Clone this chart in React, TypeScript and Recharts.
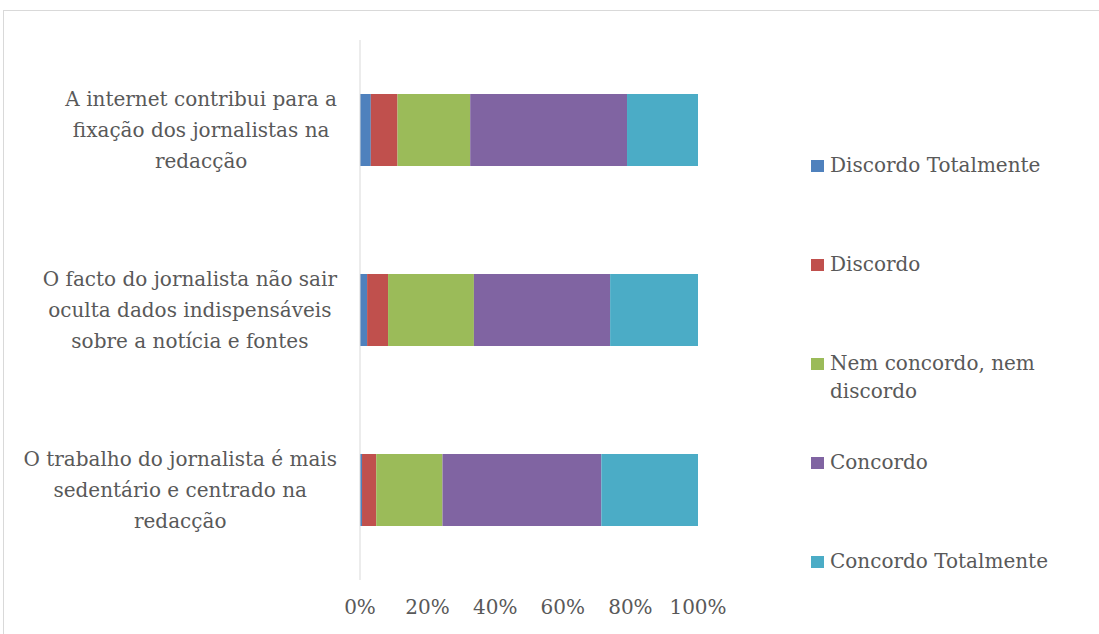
import React from 'react';
import { BarChart, Bar, XAxis, YAxis, Legend } from 'recharts';

const categoryLines = [
  ['A internet contribui para a', 'fixação dos jornalistas na', 'redacção'],
  ['O facto do jornalista não sair', 'oculta dados indispensáveis', 'sobre a notícia e fontes'],
  ['O trabalho do jornalista é mais', 'sedentário e centrado na', 'redacção'],
];

const discordoTotalmente = [3.2, 2.1, 0.6];
const discordo = [7.9, 6.2, 4.2];
const nemConcordo = [21.5, 25.4, 19.6];
const concordo = [46.4, 40.3, 47.0];
const concordoTotalmente = [21.0, 26.0, 28.6];

const xTicks = [0, 0.2, 0.4, 0.6, 0.8, 1];

const series = [
  { key: 'dt', name: 'Discordo Totalmente', lines: ['Discordo Totalmente'], color: '#4F81BD', values: discordoTotalmente },
  { key: 'd', name: 'Discordo', lines: ['Discordo'], color: '#C0504D', values: discordo },
  { key: 'n', name: 'Nem concordo, nem discordo', lines: ['Nem concordo, nem', 'discordo'], color: '#9BBB59', values: nemConcordo },
  { key: 'c', name: 'Concordo', lines: ['Concordo'], color: '#8064A2', values: concordo },
  { key: 'ct', name: 'Concordo Totalmente', lines: ['Concordo Totalmente'], color: '#4BACC6', values: concordoTotalmente },
];

const data = categoryLines.map((lines, i) => {
  const row: Record<string, any> = { cat: lines.join(' '), idx: i };
  series.forEach((s) => {
    row[s.key] = s.values[i];
  });
  return row;
});

const FONT = '"DejaVu Serif", serif';
const FONT_SIZE = 20;
const TEXT = '#595959';

let ctx: CanvasRenderingContext2D | null = null;
const measure = (t: string) => {
  if (!ctx) {
    ctx = document.createElement('canvas').getContext('2d');
  }
  if (!ctx) return t.length * FONT_SIZE * 0.5;
  ctx.font = `${FONT_SIZE}px "DejaVu Serif"`;
  return ctx.measureText(t).width;
};

const CategoryTick = (props: any) => {
  const { y, payload } = props;
  const lines = categoryLines.find((l) => l.join(' ') === payload.value) || [payload.value];
  const maxW = Math.max(...lines.map(measure));
  const cx = 337 - maxW / 2;
  const lh = 31;
  const y0 = y - ((lines.length - 1) * lh) / 2;
  return (
    <text textAnchor="middle" fill={TEXT} fontSize={FONT_SIZE} fontFamily={FONT}>
      {lines.map((l, i) => (
        <tspan key={i} x={cx} y={y0 + i * lh} dy="0.35em">
          {l}
        </tspan>
      ))}
    </text>
  );
};

const LegendContent = () => (
  <div style={{ fontFamily: FONT, fontSize: FONT_SIZE, color: TEXT }}>
    {series.map((s, i) => (
      <div
        key={s.key}
        style={{ position: 'absolute', left: 0, top: i * 99, display: 'flex', alignItems: 'flex-start' }}
      >
        <span
          style={{ display: 'inline-block', width: 13, height: 12, background: s.color, marginTop: 9, marginRight: 6 }}
        />
        <span style={{ lineHeight: '28px', whiteSpace: 'nowrap' }}>
          {s.lines.map((l, j) => (
            <div key={j}>{l}</div>
          ))}
        </span>
      </div>
    ))}
  </div>
);

export default function App() {
  return (
    <div style={{ position: 'fixed', left: 0, top: 0, width: 1099, height: 634, background: '#fff' }}>
      <div
        style={{
          position: 'absolute',
          left: 3,
          top: 10,
          width: 1100,
          height: 630,
          border: '1px solid #d9d9d9',
        }}
      />
      <BarChart
        width={1099}
        height={634}
        data={data}
        layout="vertical"
        stackOffset="expand"
        barSize={72}
        margin={{ top: 40, right: 401, bottom: 0, left: 0 }}
      >
        <XAxis
          type="number"
          domain={[0, 1]}
          ticks={xTicks}
          tickFormatter={(v: number) => `${Math.round(v * 100)}%`}
          axisLine={false}
          tickLine={false}
          height={54}
          tickMargin={14}
          tick={{ fill: TEXT, fontSize: FONT_SIZE, fontFamily: FONT }}
        />
        <YAxis
          type="category"
          dataKey="cat"
          width={360}
          axisLine={{ stroke: '#d9d9d9' }}
          tickLine={false}
          tick={<CategoryTick />}
        />
        <Legend
          layout="vertical"
          align="center"
          verticalAlign="middle"
          content={<LegendContent />}
          wrapperStyle={{ position: 'absolute', left: 811, top: 151, width: 270, height: 440 }}
        />
        {series.map((s) => (
          <Bar
            key={s.key}
            dataKey={s.key}
            name={s.name}
            stackId="a"
            fill={s.color}
            isAnimationActive={false}
          />
        ))}
      </BarChart>
    </div>
  );
}
